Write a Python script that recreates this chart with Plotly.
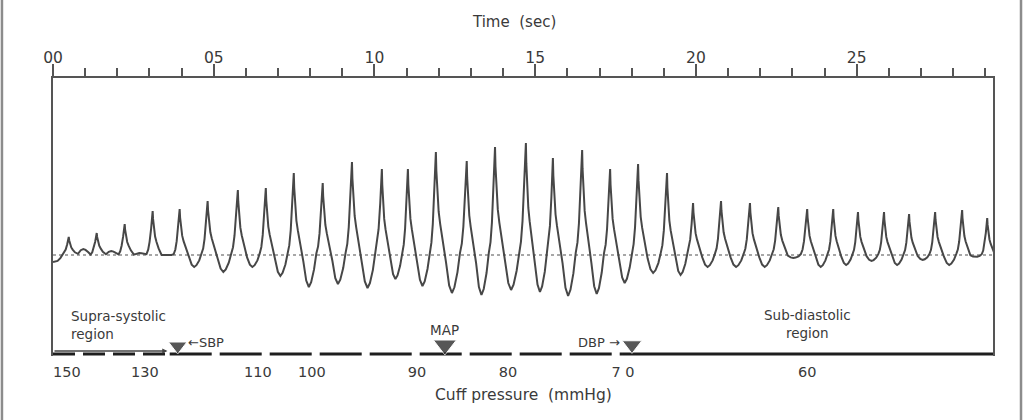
import plotly.graph_objects as go

# ---------------- data ----------------
# time of each oscillation peak (s)
peak_t = [0.49, 1.36, 2.23, 3.10, 3.94, 4.81, 5.75, 6.62, 7.49, 8.39,
          9.30, 10.23, 11.04, 11.91, 12.87, 13.75, 14.71, 15.55, 16.46, 17.33,
          18.20, 19.10, 19.91, 20.78, 21.68, 22.56, 23.46, 24.27, 25.04, 25.85,
          26.63, 27.44, 28.28, 29.06]
# peak height above baseline (arbitrary units)
peak_amp = [18, 22, 31, 44, 46, 54, 65, 67, 82, 72,
            93, 86, 86, 103, 94, 108, 112, 97, 105, 86,
            91, 82, 52, 54, 52, 48, 46, 46, 43, 43,
            41, 43, 45, 37]
# trough level following each peak (arbitrary units)
trough_amp = [6, 4, 2, 0, -12, -17, -12, -21, -32, -29,
              -33, -24, -31, -38, -40, -35, -37, -41, -39, -28,
              -18, -20, -12, -12, -12, -3, -12, -10, -6, -10,
              -5, -10, -2, -5]
start_level = -7

# pulse shape (phase relative to beat interval, weights of peak / trough)
rise_phase = [-0.40, -0.30, -0.22, -0.16, -0.11, -0.055, -0.02, 0.0]
rise_wA = [0.0, 0.0, 0.02, 0.12, 0.30, 0.60, 0.85, 1.0]
rise_wT = [0.85, 0.45, 0.0, 0.0, 0.0, 0.0, 0.0, 0.0]
fall_phase = [0.015, 0.05, 0.09, 0.14, 0.22, 0.33, 0.43, 0.52]
fall_wA = [0.82, 0.60, 0.42, 0.30, 0.15, 0.0, 0.0, 0.0]
fall_wT = [0.0, 0.0, 0.0, 0.0, 0.0, 0.2, 0.8, 1.0]

# cuff pressure scale (time positions of labels)
cuff_t = [0.43, 2.86, 6.37, 8.05, 11.32, 14.15, 17.73, 23.46]
cuff_lbl = ["150", "130", "110", "100", "90", "80", "7 0", "60"]

# key pressure markers
mark_name = ["SBP", "MAP", "DBP"]
mark_t = [3.88, 12.19, 18.01]
mark_size = [16, 20, 17]

time_ticks = [0, 5, 10, 15, 20, 25]
time_lbl = ["00", "05", "10", "15", "20", "25"]
t_end = 29.24

# ---------------- build waveform ----------------
xs, ys = [0.0], [start_level]
n = len(peak_t)
for i in range(n):
    d_prev = peak_t[i] - peak_t[i - 1] if i > 0 else peak_t[1] - peak_t[0]
    d_next = peak_t[i + 1] - peak_t[i] if i < n - 1 else d_prev
    T_prev = trough_amp[i - 1] if i > 0 else start_level
    A = peak_amp[i]
    for ph, wa, wt in zip(rise_phase, rise_wA, rise_wT):
        t = peak_t[i] + ph * d_prev
        if t > xs[-1]:
            xs.append(t)
            ys.append(wa * A + wt * T_prev)
    for ph, wa, wt in zip(fall_phase, fall_wA, fall_wT):
        xs.append(peak_t[i] + ph * d_next)
        ys.append(wa * A + wt * trough_amp[i])

FONT = "DejaVu Sans"
TXT = "#3a3a3a"
fig = go.Figure()

# dotted baseline
fig.add_trace(go.Scatter(x=[0, t_end], y=[0, 0], mode="lines",
                         line=dict(color="#8a8a8a", width=1.4, dash="dot"),
                         hoverinfo="skip", showlegend=False))
# waveform
fig.add_trace(go.Scatter(x=xs, y=ys, mode="lines",
                         line=dict(color="#474747", width=2),
                         hoverinfo="skip", showlegend=False))

# cuff pressure line: supra-systolic / deflation / sub-diastolic
base_y = -99
fig.add_trace(go.Scatter(x=[0, mark_t[0] - 0.25], y=[base_y, base_y], mode="lines",
                         line=dict(color="#1e1e1e", width=3, dash="22px,8px"),
                         hoverinfo="skip", showlegend=False))
fig.add_trace(go.Scatter(x=[mark_t[0] - 0.25, mark_t[2] - 0.28], y=[base_y, base_y], mode="lines",
                         line=dict(color="#1e1e1e", width=3, dash="42px,8px"),
                         hoverinfo="skip", showlegend=False))
fig.add_trace(go.Scatter(x=[mark_t[2] - 0.28, t_end], y=[base_y, base_y], mode="lines",
                         line=dict(color="#1e1e1e", width=3),
                         hoverinfo="skip", showlegend=False))

# markers
fig.add_trace(go.Scatter(x=mark_t, y=[-91, -90, -90], mode="markers",
                         marker=dict(symbol="triangle-down", size=mark_size, color="#111111"),
                         cliponaxis=False, hoverinfo="skip", showlegend=False))

# annotations
ann = []
ann.append(dict(x=0.49, y=1.202, xref="paper", yref="paper", text="Time  (sec)",
                yanchor="middle", showarrow=False, font=dict(size=15, color=TXT, family=FONT)))
ann.append(dict(x=0.5, y=-0.140, xref="paper", yref="paper", text="Cuff pressure  (mmHg)",
                yanchor="middle", showarrow=False, font=dict(size=15.5, color=TXT, family=FONT)))
ann.append(dict(x=0.5, y=-70, xref="x", yref="y", text="Supra-systolic<br>region",
                xanchor="left", yanchor="middle", align="left", showarrow=False,
                font=dict(size=13.5, color=TXT, family=FONT)))
ann.append(dict(x=23.46, y=-69, xref="x", yref="y", text="Sub-diastolic<br>region",
                xanchor="center", yanchor="middle", align="center", showarrow=False,
                font=dict(size=13.5, color=TXT, family=FONT)))
ann.append(dict(x=mark_t[0] + 0.27, y=-87, xref="x", yref="y", text="\u2190" + mark_name[0],
                xanchor="left", yanchor="middle", showarrow=False,
                font=dict(size=13, color=TXT, family=FONT)))
ann.append(dict(x=mark_t[1], y=-75, xref="x", yref="y", text=mark_name[1],
                xanchor="center", yanchor="middle", showarrow=False,
                font=dict(size=13.5, color=TXT, family=FONT)))
ann.append(dict(x=mark_t[2] - 0.3, y=-87, xref="x", yref="y", text=mark_name[2] + " \u2192",
                xanchor="right", yanchor="middle", showarrow=False,
                font=dict(size=13, color=TXT, family=FONT)))
# supra-systolic arrow
ann.append(dict(x=mark_t[0] - 0.32, y=-96, xref="x", yref="y", ax=0, ay=-96,
                axref="x", ayref="y", text="", showarrow=True, arrowhead=2,
                arrowsize=0.8, arrowwidth=1.3, arrowcolor="#444444"))

shapes = [
    dict(type="line", xref="paper", yref="paper", x0=-0.0543, x1=-0.0543, y0=-0.24, y1=1.29,
         line=dict(color="#8c8c8c", width=2.5)),
    dict(type="line", xref="paper", yref="paper", x0=1.0298, x1=1.0298, y0=-0.24, y1=1.29,
         line=dict(color="#8c8c8c", width=2.5)),
]

fig.update_layout(
    width=1025, height=420,
    margin=dict(l=53, r=32, t=78, b=64),
    paper_bgcolor="white", plot_bgcolor="white",
    font=dict(family=FONT, color=TXT, size=14),
    annotations=ann, shapes=shapes,
    xaxis=dict(range=[0, t_end], side="top", showgrid=False, zeroline=False,
               showline=True, linecolor="#555555", linewidth=2,
               tickvals=time_ticks, ticktext=time_lbl, ticks="outside",
               ticklen=12, tickwidth=1.8, tickcolor="#555555",
               tickfont=dict(size=15.5, color=TXT, family=FONT),
               ticklabelstandoff=-5,
               minor=dict(dtick=1, tick0=0, ticks="outside", ticklen=8,
                          tickwidth=1.6, tickcolor="#555555")),
    xaxis2=dict(range=[0, t_end], overlaying="x", side="bottom", showgrid=False,
                zeroline=False, showline=False, tickvals=cuff_t, ticktext=cuff_lbl,
                ticks="", tickfont=dict(size=14.5, color=TXT, family=FONT),
                ticklabelstandoff=5),
    yaxis=dict(range=[-101, 177], showgrid=False, zeroline=False, showticklabels=False,
               ticks="", showline=True, mirror=True, linecolor="#555555", linewidth=2),
)
# dummy trace to activate xaxis2
fig.add_trace(go.Scatter(x=[0], y=[None], xaxis="x2", mode="lines",
                         hoverinfo="skip", showlegend=False))

fig.write_html("out.html")
